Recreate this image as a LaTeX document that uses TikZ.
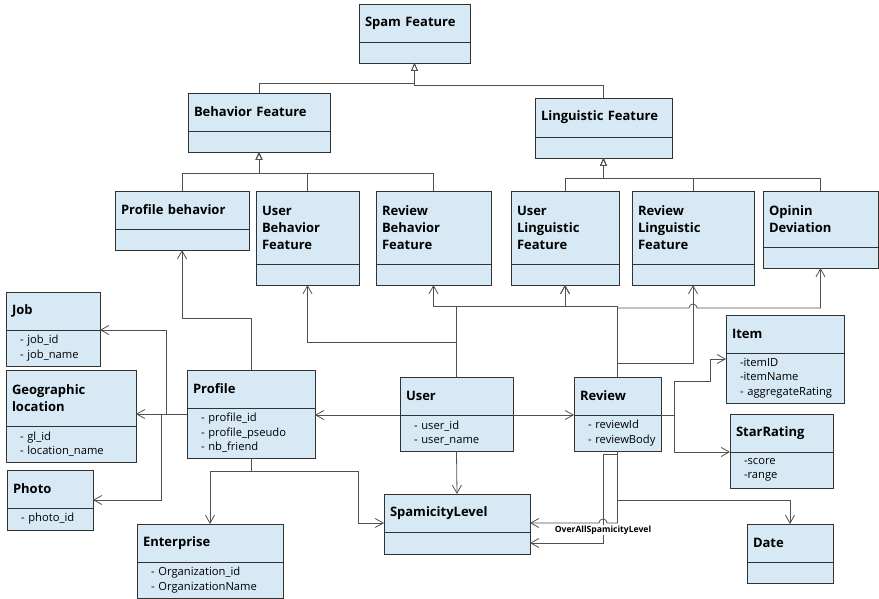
\documentclass[tikz,border=0pt]{standalone}
\usepackage{fontspec}
\setmainfont{Open Sans}
\usetikzlibrary{arrows.meta}
\definecolor{boxfill}{RGB}{214,233,245}
\definecolor{boxline}{RGB}{50,50,50}
\definecolor{linkgray}{RGB}{80,80,80}

\begin{document}
\begin{tikzpicture}[x=1pt,y=-1pt,
  box/.style={draw=boxline,fill=boxfill,line width=0.9pt,outer sep=0pt,
    inner xsep=0pt,inner ysep=0pt,anchor=north west,text width=#1,align=left},
  hdr/.style={box=#1,font=\fontsize{13}{17}\selectfont\bfseries,
    execute at begin node={\leftskip=6pt\relax}},
  attr/.style={box=#1,font=\fontsize{11.2}{14.5}\selectfont,
    execute at begin node={\leftskip=14pt\relax}},
  link/.style={draw=linkgray,line width=0.8pt},
  assoc/.style={link,-{Straight Barb[length=8pt,width=9pt]}},
  gen/.style={link,-{Triangle[open,length=8pt,width=7pt]}},
  lbl/.style={fill=white,inner sep=1pt,font=\fontsize{8.6}{10}\selectfont\bfseries}]
\useasboundingbox (0,0) rectangle (879,599);
% Feature tree
\node[hdr=111pt,minimum height=38pt] (spam) at (359,4) {Spam Feature};
\node[attr=111pt,minimum height=21pt] (spam-a) at (spam.south west) {};
\node[hdr=142pt,minimum height=38pt] (behav) at (188,93) {Behavior Feature};
\node[attr=142pt,minimum height=21pt] (behav-a) at (behav.south west) {};
\node[hdr=137pt,minimum height=39pt] (ling) at (535,98) {Linguistic Feature};
\node[attr=137pt,minimum height=21pt] (ling-a) at (ling.south west) {};
\node[hdr=134pt,minimum height=38pt] (profbeh) at (115,191) {Profile behavior};
\node[attr=134pt,minimum height=21pt] (profbeh-a) at (profbeh.south west) {};
\node[hdr=103pt,minimum height=73pt] (userbeh) at (256,191) {User\\Behavior\\Feature};
\node[attr=103pt,minimum height=21pt] (userbeh-a) at (userbeh.south west) {};
\node[hdr=115pt,minimum height=73pt] (revbeh) at (376,191) {Review\\Behavior\\Feature};
\node[attr=115pt,minimum height=21pt] (revbeh-a) at (revbeh.south west) {};
\node[hdr=108pt,minimum height=73pt] (userling) at (511,191) {User\\Linguistic\\Feature};
\node[attr=108pt,minimum height=21pt] (userling-a) at (userling.south west) {};
\node[hdr=122pt,minimum height=73pt] (revling) at (632,191) {Review\\Linguistic\\Feature};
\node[attr=122pt,minimum height=21pt] (revling-a) at (revling.south west) {};
\node[hdr=115pt,minimum height=56pt] (opinin) at (763,191) {Opinin\\Deviation};
\node[attr=115pt,minimum height=21pt] (opinin-a) at (opinin.south west) {};
% Data classes
\node[hdr=94pt,minimum height=38pt] (job) at (6,292) {Job};
\node[attr=94pt,minimum height=36pt] (job-a) at (job.south west) {- job\_id\\- job\_name};
\node[hdr=130pt,minimum height=56pt] (geo) at (6,370) {Geographic\\location};
\node[attr=130pt,minimum height=36pt] (geo-a) at (geo.south west) {- gl\_id\\- location\_name};
\node[hdr=86pt,minimum height=38pt] (photo) at (7,470) {Photo};
\node[attr=86pt,minimum height=22pt] (photo-a) at (photo.south west) {- photo\_id};
\node[hdr=128pt,minimum height=38pt] (profile) at (187,370) {Profile};
\node[attr=128pt,minimum height=50pt] (profile-a) at (profile.south west) {- profile\_id\\- profile\_pseudo\\- nb\_friend};
\node[hdr=146pt,minimum height=38pt] (enterprise) at (137,524) {Enterprise};
\node[attr=146pt,minimum height=36pt] (enterprise-a) at (enterprise.south west) {- Organization\_id\\- OrganizationName};
\node[hdr=113pt,minimum height=38pt] (user) at (400,377) {User};
\node[attr=113pt,minimum height=36pt] (user-a) at (user.south west) {- user\_id\\- user\_name};
\node[hdr=87pt,minimum height=38pt] (review) at (574,377) {Review};
\node[attr=87pt,minimum height=36pt] (review-a) at (review.south west) {- reviewId\\- reviewBody};
\node[hdr=146pt,minimum height=38pt] (spamlvl) at (384,494) {SpamicityLevel};
\node[attr=146pt,minimum height=22pt] (spamlvl-a) at (spamlvl.south west) {};
\node[hdr=118pt,minimum height=38pt] (item) at (726,315) {Item};
\node[attr=118pt,minimum height=50pt] (item-a) at (item.south west) {-itemID\\-itemName\\- aggregateRating};
\node[hdr=103pt,minimum height=38pt] (star) at (730,414) {StarRating};
\node[attr=103pt,minimum height=36pt] (star-a) at (star.south west) {-score\\-range};
\node[hdr=86pt,minimum height=38pt] (date) at (747,524) {Date};
\node[attr=86pt,minimum height=21pt] (date-a) at (date.south west) {};
% Generalization
\draw[gen] (behav.north) -- (behav.north |- 0,83) -| (spam-a.south);
\draw[gen] (ling.north) -- (ling.north |- 0,85) -| (spam-a.south);
\draw[gen] (profbeh.north) -- (profbeh.north |- 0,173) -| (behav-a.south);
\draw[gen] (userbeh.north) -- (userbeh.north |- 0,173) -| (behav-a.south);
\draw[gen] (revbeh.north) -- (revbeh.north |- 0,173) -| (behav-a.south);
\draw[gen] (userling.north) -- (userling.north |- 0,178) -| (ling-a.south);
\draw[gen] (revling.north) -- (revling.north |- 0,178) -| (ling-a.south);
\draw[gen] (opinin.north) -- (opinin.north |- 0,178) -| (ling-a.south);
% Profile
\draw[assoc] (profile.north) -- (profile.north |- 0,318) -| (profbeh-a.south);
\draw[assoc] (profile.west |- 0,414) -- (geo.east |- 0,414);
\draw[assoc] (profile.west |- 0,414) -| (166,330) -- (job.south east);
\draw[assoc] (profile.west |- 0,414) -| (161,500) -- (photo.east |- 0,500);
\draw[assoc] (profile-a.south) -- (profile-a.south |- 0,471) -| (enterprise.north);
\draw[assoc] (profile-a.south |- 0,471) -| (358,523) -- (spamlvl.west |- 0,523);
% User
\draw[assoc] (user.south west) -- (user.south west -| profile.east);
\draw[assoc] (user.south east) -- (user.south east -| review.west);
\draw[assoc] (user-a.south) -- (spamlvl.north);
\draw[assoc] (user.north) -- (user.north |- 0,306) -| (revbeh-a.south);
\draw[assoc] (user.north |- 0,306) -| (userling-a.south);
\draw[assoc] (user.north |- 0,342) -| (userbeh-a.south);
% Review
\draw[assoc] (review.north) -- (review.north |- 0,306) -| (userling-a.south);
\draw[assoc] (review.north |- 0,363) -| (revling-a.south);
\draw[assoc] (review.north |- 0,308) -- (689,308) arc[start angle=180,end angle=0,radius=4pt] -| (opinin-a.south);
\draw[assoc] (review.south east) -| (674,381) -| (710,359) -- (item.west |- 0,359);
\draw[assoc] (review.south east -| 674,0) |- (star.south west);
\draw[assoc] (review-a.south) -- (review-a.south |- 0,500) -| (date.north);
\draw[assoc] (review-a.south) -- (review-a.south |- 0,523) -- (607,523) arc[start angle=0,end angle=180,radius=4pt] -- (spamlvl.east |- 0,523);
\draw[assoc] (review-a.south |- 0,454) -| (603,543) -- (spamlvl.east |- 0,543);
\node[lbl] (ovl) at (603,530) {OverAllSpamicityLevel};
\end{tikzpicture}
\end{document}
